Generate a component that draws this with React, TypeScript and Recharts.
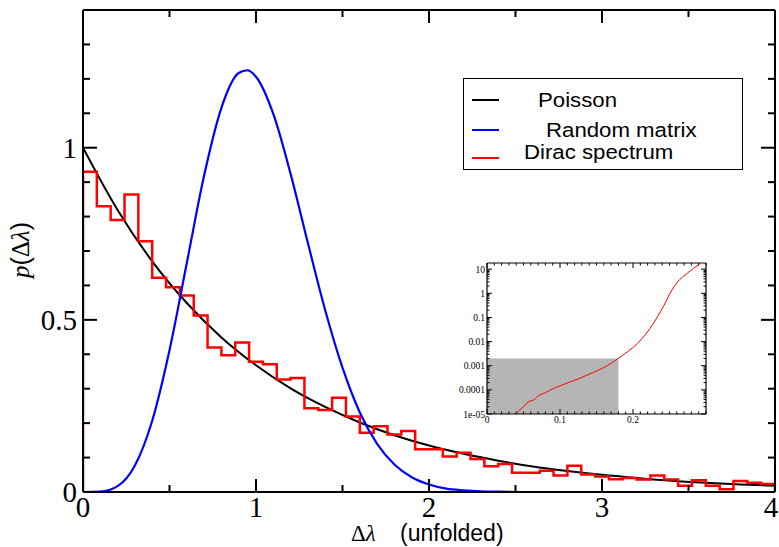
import React from 'react';
import { LineChart, Line, XAxis, YAxis, ReferenceArea } from 'recharts';

// main panel: level spacing distributions
const poissonX = [0, 0.2, 0.4, 0.6, 0.8, 1, 1.2, 1.4, 1.6, 1.8, 2, 2.2, 2.4, 2.6, 2.8, 3, 3.2, 3.4, 3.6, 3.8, 4];
const poissonY = [1, 0.819, 0.67, 0.549, 0.449, 0.368, 0.301, 0.247, 0.202, 0.165, 0.135, 0.111, 0.091, 0.074, 0.061, 0.05, 0.041, 0.033, 0.027, 0.022, 0.018];

const rmtX = [0, 0.1, 0.2, 0.3, 0.4, 0.5, 0.6, 0.7, 0.8, 0.9, 0.95, 1, 1.1, 1.2, 1.3, 1.4, 1.5, 1.6, 1.7, 1.8, 1.9, 2, 2.1, 2.2, 2.3, 2.4, 2.6, 3, 4];
const rmtY = [0, 0.001, 0.017, 0.077, 0.207, 0.412, 0.665, 0.919, 1.116, 1.217, 1.225, 1.206, 1.098, 0.924, 0.723, 0.528, 0.361, 0.231, 0.14, 0.08, 0.043, 0.022, 0.01, 0.005, 0.002, 0.001, 0, 0, 0];

// Dirac spectrum histogram, bins of width 0.08 from 0 to 4
const binWidth = 0.08;
const diracHeights = [
  0.93, 0.83, 0.79, 0.864, 0.728, 0.622, 0.595, 0.571, 0.513, 0.42,
  0.397, 0.434, 0.378, 0.371, 0.327, 0.331, 0.243, 0.238, 0.274, 0.219,
  0.172, 0.191, 0.167, 0.177, 0.124, 0.124, 0.103, 0.114, 0.096, 0.075,
  0.081, 0.056, 0.056, 0.062, 0.048, 0.076, 0.051, 0.045, 0.037, 0.041,
  0.036, 0.048, 0.036, 0.018, 0.034, 0.018, 0.008, 0.032, 0.027, 0.023,
];

const xLabelValues = [0, 1, 2, 3, 4];
const xTickLabels = ['0', '1', '2', '3', '4'];
const yLabelValues = [0, 0.5, 1];
const yTickLabels = ['0', '0.5', '1'];

// inset (log scale)
const insetX = [0.0394, 0.05, 0.0568, 0.065, 0.0706, 0.0798, 0.0912, 0.1027, 0.1119, 0.1233, 0.137, 0.151, 0.1646, 0.1797, 0.192, 0.206, 0.2197, 0.2334, 0.2425, 0.2517, 0.261, 0.2747, 0.2907];
const insetY = [1.07e-5, 2.0e-5, 3.2e-5, 4.0e-5, 5.7e-5, 7.6e-5, 1.15e-4, 1.58e-4, 2.04e-4, 2.7e-4, 4.1e-4, 6.2e-4, 1.0e-3, 2.0e-3, 3.7e-3, 8.3e-3, 0.025, 0.105, 0.32, 1.13, 2.93, 6.9, 15.8];
const insetXLabelValues = [0, 0.1, 0.2];
const insetXLabels = ['0', '0.1', '0.2'];
const insetYLabelValues = [1e-5, 1e-4, 1e-3, 1e-2, 0.1, 1, 10];
const insetYLabels = ['1e-05', '0.0001', '0.001', '0.01', '0.1', '1', '10'];
const shadeX = [0, 0.18];
const shadeY = [1e-5, 0.002];

const SERIF = '"Liberation Serif", "Times New Roman", serif';
const SANS = '"Liberation Sans", Arial, sans-serif';

const poisson = poissonX.map((x, i) => ({ x, y: poissonY[i] }));
const rmt = rmtX.map((x, i) => ({ x, y: rmtY[i] }));
const hist = [
  { x: 0, y: 0 },
  ...diracHeights.map((h, i) => ({ x: +(i * binWidth).toFixed(2), y: h })),
  { x: 4, y: diracHeights[diracHeights.length - 1] },
  { x: 4, y: 0 },
];
const inset = insetX.map((x, i) => ({ x, y: insetY[i] }));

const xTicks = Array.from({ length: 9 }, (_, i) => i * 0.5);
const yTicks = Array.from({ length: 15 }, (_, i) => +(i * 0.1).toFixed(1));
const insetXTicks = Array.from({ length: 31 }, (_, i) => +(i * 0.01).toFixed(2));
const insetYTicks: number[] = [];
for (let k = -5; k <= 1; k++) {
  for (let m = 1; m <= 9; m++) {
    const v = +(m * Math.pow(10, k)).toPrecision(3);
    if (v <= 18) insetYTicks.push(v);
  }
}

function labelFor(v: number, values: number[], labels: string[]) {
  const i = values.findIndex((t) => Math.abs(t - v) < 1e-9 * Math.max(1, Math.abs(t)) || Math.abs(t - v) / t < 1e-6);
  return i >= 0 ? labels[i] : null;
}

function BottomTick(p: any) {
  const lab = labelFor(p.payload.value, xLabelValues, xTickLabels);
  const len = lab !== null ? 13 : 7;
  // last label sits against the right edge of the page
  const tx = p.payload.value >= 4 ? p.x - 4 : p.x;
  return (
    <g>
      <line x1={p.x} y1={p.y} x2={p.x} y2={p.y - len} stroke="#000" strokeWidth={2} />
      {lab !== null && (
        <text x={tx} y={p.y + 25} textAnchor="middle" fontFamily={SERIF} fontSize={29} fill="#000">
          {lab}
        </text>
      )}
    </g>
  );
}

function TopTick(p: any) {
  const lab = labelFor(p.payload.value, xLabelValues, xTickLabels);
  const len = lab !== null ? 13 : 7;
  return <line x1={p.x} y1={p.y} x2={p.x} y2={p.y + len} stroke="#000" strokeWidth={2} />;
}

function LeftTick(p: any) {
  const lab = labelFor(p.payload.value, yLabelValues, yTickLabels);
  const len = lab !== null ? 14 : 7;
  return (
    <g>
      <line x1={p.x} y1={p.y} x2={p.x + len} y2={p.y} stroke="#000" strokeWidth={2} />
      {lab !== null && (
        <text x={p.x - 6} y={p.y + 10} textAnchor="end" fontFamily={SERIF} fontSize={29} fill="#000">
          {lab}
        </text>
      )}
    </g>
  );
}

function RightTick(p: any) {
  const lab = labelFor(p.payload.value, yLabelValues, yTickLabels);
  const len = lab !== null ? 14 : 7;
  return <line x1={p.x} y1={p.y} x2={p.x - len} y2={p.y} stroke="#000" strokeWidth={2} />;
}

function InsetBottomTick(p: any) {
  const lab = labelFor(p.payload.value, insetXLabelValues, insetXLabels);
  const len = lab !== null ? 5 : 2.5;
  return (
    <g>
      <line x1={p.x} y1={p.y} x2={p.x} y2={p.y - len} stroke="#000" strokeWidth={1} />
      {lab !== null && (
        <text x={p.x} y={p.y + 9} textAnchor="middle" fontFamily={SERIF} fontSize={9.5} fill="#000">
          {lab}
        </text>
      )}
    </g>
  );
}

function InsetTopTick(p: any) {
  const lab = labelFor(p.payload.value, insetXLabelValues, insetXLabels);
  const len = lab !== null ? 5 : 2.5;
  return <line x1={p.x} y1={p.y} x2={p.x} y2={p.y + len} stroke="#000" strokeWidth={1} />;
}

function InsetLeftTick(p: any) {
  const lab = labelFor(p.payload.value, insetYLabelValues, insetYLabels);
  const len = lab !== null ? 5 : 2.5;
  return (
    <g>
      <line x1={p.x} y1={p.y} x2={p.x + len} y2={p.y} stroke="#000" strokeWidth={1} />
      {lab !== null && (
        <text x={p.x - 2} y={p.y + 3.5} textAnchor="end" fontFamily={SERIF} fontSize={9.5} fill="#000">
          {lab}
        </text>
      )}
    </g>
  );
}

function InsetRightTick(p: any) {
  const lab = labelFor(p.payload.value, insetYLabelValues, insetYLabels);
  const len = lab !== null ? 5 : 2.5;
  return <line x1={p.x} y1={p.y} x2={p.x - len} y2={p.y} stroke="#000" strokeWidth={1} />;
}

const frame = { stroke: '#000', strokeWidth: 2 };
const insetFrame = { stroke: '#000', strokeWidth: 1.2 };

export default function App() {
  return (
    <div style={{ position: 'absolute', left: 0, top: 0, width: 779, height: 547, background: '#fff' }}>
      <div style={{ position: 'absolute', left: 0, top: 0 }}>
        <LineChart width={779} height={547} margin={{ top: 0, right: 0, bottom: 0, left: 0 }}>
          <XAxis
            dataKey="x"
            type="number"
            domain={[0, 4]}
            ticks={xTicks}
            interval={0}
            height={55}
            tickSize={0}
            tickMargin={0}
            tickLine={false}
            axisLine={frame}
            tick={(p: any) => <BottomTick {...p} />}
            allowDataOverflow
          />
          <XAxis
            xAxisId="top"
            orientation="top"
            dataKey="x"
            type="number"
            domain={[0, 4]}
            ticks={xTicks}
            interval={0}
            height={10}
            tickSize={0}
            tickMargin={0}
            tickLine={false}
            axisLine={frame}
            tick={(p: any) => <TopTick {...p} />}
            allowDataOverflow
          />
          <YAxis
            type="number"
            domain={[0, 1.4]}
            ticks={yTicks}
            interval={0}
            width={83}
            tickSize={0}
            tickMargin={0}
            tickLine={false}
            axisLine={frame}
            tick={(p: any) => <LeftTick {...p} />}
            allowDataOverflow
          />
          <YAxis
            yAxisId="right"
            orientation="right"
            type="number"
            domain={[0, 1.4]}
            ticks={yTicks}
            interval={0}
            width={4}
            tickSize={0}
            tickMargin={0}
            tickLine={false}
            axisLine={frame}
            tick={(p: any) => <RightTick {...p} />}
            allowDataOverflow
          />
          <Line data={poisson} dataKey="y" type="monotone" stroke="#000" strokeWidth={2} dot={false} isAnimationActive={false} />
          <Line data={hist} dataKey="y" type="stepAfter" stroke="#ff0000" strokeWidth={2.5} dot={false} isAnimationActive={false} />
          <Line data={rmt} dataKey="y" type="monotone" stroke="#0000ff" strokeWidth={2.2} dot={false} isAnimationActive={false} />
        </LineChart>
      </div>

      <div style={{ position: 'absolute', left: 447, top: 255 }}>
        <LineChart width={265} height={179} margin={{ top: 0, right: 0, bottom: 0, left: 0 }}>
          <XAxis
            dataKey="x"
            type="number"
            domain={[0, 0.3]}
            ticks={insetXTicks}
            interval={0}
            height={20}
            tickSize={0}
            tickMargin={0}
            tickLine={false}
            axisLine={insetFrame}
            tick={(p: any) => <InsetBottomTick {...p} />}
            allowDataOverflow
          />
          <XAxis
            xAxisId="top"
            orientation="top"
            dataKey="x"
            type="number"
            domain={[0, 0.3]}
            ticks={insetXTicks}
            interval={0}
            height={8}
            tickSize={0}
            tickMargin={0}
            tickLine={false}
            axisLine={insetFrame}
            tick={(p: any) => <InsetTopTick {...p} />}
            allowDataOverflow
          />
          <YAxis
            type="number"
            scale="log"
            domain={[1e-5, 18]}
            ticks={insetYTicks}
            interval={0}
            width={40}
            tickSize={0}
            tickMargin={0}
            tickLine={false}
            axisLine={insetFrame}
            tick={(p: any) => <InsetLeftTick {...p} />}
            allowDataOverflow
          />
          <YAxis
            yAxisId="right"
            orientation="right"
            type="number"
            scale="log"
            domain={[1e-5, 18]}
            ticks={insetYTicks}
            interval={0}
            width={6}
            tickSize={0}
            tickMargin={0}
            tickLine={false}
            axisLine={insetFrame}
            tick={(p: any) => <InsetRightTick {...p} />}
            allowDataOverflow
          />
          <ReferenceArea
            x1={shadeX[0]}
            x2={shadeX[1]}
            y1={shadeY[0]}
            y2={shadeY[1]}
            fill="#b5b5b5"
            fillOpacity={1}
            stroke="none"
          />
          <Line data={inset} dataKey="y" type="monotone" stroke="#ff0000" strokeWidth={1} dot={false} isAnimationActive={false} />
        </LineChart>
      </div>

      <svg
        width={779}
        height={547}
        style={{ position: 'absolute', left: 0, top: 0, pointerEvents: 'none' }}
      >
        {/* legend */}
        <rect x={463.5} y={78.5} width={279} height={91} fill="#fff" stroke="#000" strokeWidth={1} />
        <line x1={472} y1={100} x2={499} y2={100} stroke="#000" strokeWidth={2} />
        <line x1={472} y1={130} x2={499} y2={130} stroke="#0000ff" strokeWidth={2} />
        <line x1={472} y1={158} x2={499} y2={158} stroke="#ff0000" strokeWidth={2} />
        <text transform="translate(538,107) scale(1.14,1)" fontFamily={SANS} fontSize={19.5} fill="#000">Poisson</text>
        <text transform="translate(546,137) scale(1.14,1)" fontFamily={SANS} fontSize={19.5} fill="#000">Random matrix</text>
        <text transform="translate(524,159) scale(1.14,1)" fontFamily={SANS} fontSize={19.5} fill="#000">Dirac spectrum</text>

        {/* axis titles */}
        <text x={351} y={541} fontFamily={SERIF} fontSize={23} fill="#000">
          Δ<tspan fontStyle="italic">λ</tspan>
        </text>
        <text x={400} y={541} fontFamily={SANS} fontSize={23} fill="#000">(unfolded)</text>
        <text transform="translate(29,250) rotate(-90)" textAnchor="middle" fontSize={25} fill="#000">
          <tspan fontFamily={SERIF} fontStyle="italic">p</tspan>
          <tspan fontFamily={SANS}>(</tspan>
          <tspan fontFamily={SERIF}>Δ</tspan>
          <tspan fontFamily={SERIF} fontStyle="italic">λ</tspan>
          <tspan fontFamily={SANS}>)</tspan>
        </text>
      </svg>
    </div>
  );
}
